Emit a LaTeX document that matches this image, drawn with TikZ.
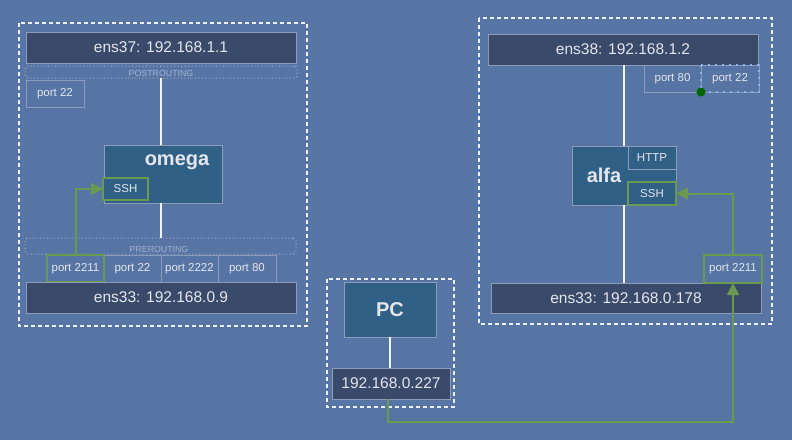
\documentclass[tikz,border=0pt]{standalone}
\usepackage{fontspec}
\setmainfont{Liberation Sans}
\usetikzlibrary{arrows.meta}
\definecolor{bgc}{RGB}{86,116,164}
\definecolor{darkc}{RGB}{58,74,106}
\definecolor{nodec}{RGB}{49,96,134}
\definecolor{edgec}{RGB}{140,156,186}
\definecolor{txtc}{RGB}{228,230,236}
\definecolor{greenc}{RGB}{106,154,80}
\definecolor{dotc}{RGB}{165,178,206}
\definecolor{selc}{RGB}{140,180,230}
\tikzset{
  box/.style={draw=edgec, line width=1pt, inner sep=0pt, outer sep=0pt, text=txtc},
  darkbox/.style={box, fill=darkc, font=\fontsize{15.5}{17}\selectfont},
  hostbox/.style={box, fill=nodec, font=\fontsize{20}{22}\selectfont\bfseries},
  portbox/.style={box, font=\fontsize{11.5}{13}\selectfont},
  svcbox/.style={box, fill=nodec, font=\fontsize{11.5}{13}\selectfont},
  greenbox/.style={draw=greenc, line width=1.6pt},
  frame/.style={draw=white!90!bgc, line width=1.5pt, dash pattern=on 4pt off 3pt},
  chain/.style={draw=dotc, line width=1pt, dash pattern=on 1pt off 2.5pt, rounded corners=3pt, inner sep=0pt},
  chainlabel/.style={text=dotc, font=\fontsize{8.8}{9}\selectfont, inner sep=0pt},
  wire/.style={draw=white!92!bgc, line width=1.4pt},
  garrow/.style={draw=greenc, line width=2pt, -{Triangle[length=12pt,width=12pt]}},
}
\begin{document}
\begin{tikzpicture}[x=1pt,y=-1pt]
\useasboundingbox (0,0) rectangle (792,440);
\fill[bgc] (0,0) rectangle (792,440);

% ---------- left host (omega) ----------
\draw[frame] (19,23) rectangle (307,326);
\node[darkbox, minimum width=270pt, minimum height=31pt] (ens37) at (161,47.5) {ens37: 192.168.1.1};
\node[chain, minimum width=272pt, minimum height=12pt] (post) at (161,72) {};
\node[chainlabel] (postl) at (161,73.5) {POSTROUTING};
\node[portbox, minimum width=58pt, minimum height=27pt] (lp22top) at (55,93.5) {port 22};
\node[hostbox, minimum width=118pt, minimum height=58pt] (omega) at (163,174) {};
\node[text=txtc, font=\fontsize{20}{22}\selectfont\bfseries] (omegal) at (177,162) {omega};
\node[svcbox, greenbox, minimum width=45pt, minimum height=22pt] (lssh) at (125.5,189) {SSH};
\node[chain, minimum width=271pt, minimum height=16pt] (pre) at (160.5,246) {};
\node[chainlabel] (prel) at (159,249.5) {PREROUTING};
\node[portbox, minimum width=57pt, minimum height=27pt] (lp22) at (132.5,268.5) {port 22};
\node[portbox, minimum width=57pt, minimum height=27pt] (lp2222) at (189.5,268.5) {port 2222};
\node[portbox, minimum width=58pt, minimum height=27pt] (lp80) at (247,268.5) {port 80};
\node[portbox, greenbox, minimum width=57pt, minimum height=27pt] (lp2211) at (75.5,268.5) {port 2211};
\node[darkbox, minimum width=270pt, minimum height=31pt] (ens33l) at (161,297.5) {ens33: 192.168.0.9};
\draw[wire] (161,78) -- (161,145);
\draw[wire] (161,203) -- (161,238);
\draw[garrow] (lp2211.north) |- (lssh.west);

% ---------- right host (alfa) ----------
\draw[frame] (479,18) rectangle (772,324);
\node[darkbox, minimum width=270pt, minimum height=31pt] (ens38) at (623,49.5) {ens38: 192.168.1.2};
\node[portbox, minimum width=57pt, minimum height=27pt] (rp80) at (672.5,78.5) {port 80};
\node[portbox, minimum width=58pt, minimum height=27pt] (rp22) at (730,78.5) {port 22};
\draw[selc, line width=1.2pt, dash pattern=on 2pt off 5pt] (rp22.north west) rectangle (rp22.south east);
\fill[green!40!black] (701,92) circle (4.5pt);
\node[hostbox, minimum width=104pt, minimum height=59pt] (alfa) at (624,175.5) {};
\node[text=txtc, font=\fontsize{20}{22}\selectfont\bfseries] (alfal) at (604,175) {alfa};
\node[svcbox, minimum width=48pt, minimum height=23pt] (http) at (652,157.5) {HTTP};
\node[svcbox, greenbox, minimum width=48pt, minimum height=23pt] (rssh) at (652,193.5) {SSH};
\draw[wire] (ens38.south -| alfa.north) -- (alfa.north);
\node[darkbox, minimum width=270pt, minimum height=30pt] (ens33r) at (626,298) {ens33: 192.168.0.178};
\draw[wire] (alfa.south) -- (alfa.south |- ens33r.north);
\node[portbox, greenbox, minimum width=58pt, minimum height=28pt] (rp2211) at (733,269) {port 2211};
\draw[garrow] (rp2211.north) |- (rssh.east);

% ---------- PC ----------
\draw[frame] (327,279) rectangle (454,407);
\node[hostbox, minimum width=92pt, minimum height=55pt] (pc) at (390,309.5) {PC};
\node[darkbox, minimum width=118pt, minimum height=31pt] (pcip) at (391,383.5) {192.168.0.227};
\draw[wire] (pc.south) -- (pc.south |- pcip.north);
\coordinate (pcout) at ([xshift=-3pt]pcip.south);
\draw[garrow] (pcout) -- ++(0,23) -| (rp2211.south);
\end{tikzpicture}
\end{document}
